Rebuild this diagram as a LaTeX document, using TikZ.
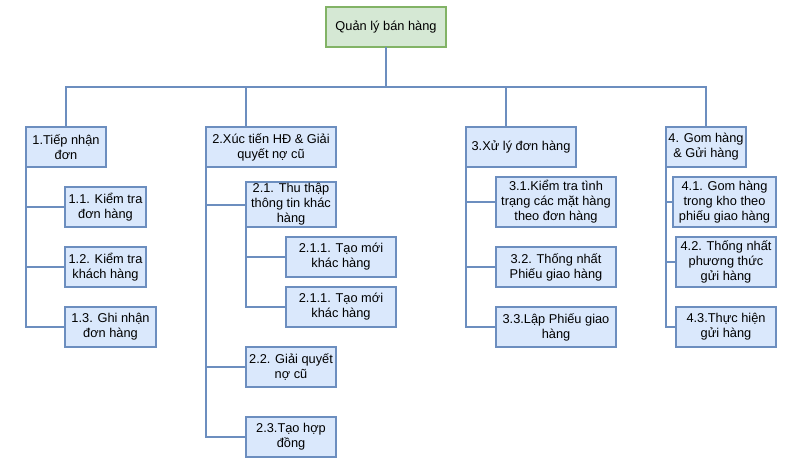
\documentclass[tikz,border=0pt]{standalone}
\usepackage{fontspec}
\setmainfont{Liberation Sans}
\usepackage{tikz}
\usetikzlibrary{positioning}
\definecolor{BoxBlue}{HTML}{DAE8FC}
\definecolor{EdgeBlue}{HTML}{6C8EBF}
\definecolor{BoxGreen}{HTML}{D5E8D4}
\definecolor{EdgeGreen}{HTML}{82B366}

\begin{document}
\begin{tikzpicture}[
  x=1pt, y=-1pt,
  block/.style={draw=EdgeBlue, fill=BoxBlue, line width=2pt, inner sep=0pt,
                outer sep=0pt, align=center, anchor=north west,
                font=\fontsize{12.8}{15}\selectfont},
  link/.style={draw=EdgeBlue, line width=2pt}
]
  \useasboundingbox (0,0) rectangle (791,464);

  % Root
  \node[block, draw=EdgeGreen, fill=BoxGreen, minimum width=120pt, minimum height=40pt]
    (root) at (326,7) {Quản lý bán hàng};
  \coordinate (bus) at (386,87);

  % Level 1
  \node[block, minimum width=80pt, minimum height=40pt]  (n1) at (26,127)  {1.Tiếp nhận\\đơn};
  \node[block, minimum width=130pt, minimum height=40pt] (n2) at (206,127) {2.Xúc tiến HĐ \& Giải\\quyết nợ cũ};
  \node[block, minimum width=110pt, minimum height=40pt] (n3) at (466,127) {3.Xử lý đơn hàng};
  \node[block, minimum width=80pt, minimum height=40pt]  (n4) at (666,127) {4. Gom hàng\\\& Gửi hàng};

  % Branch 1
  \node[block, minimum width=81pt, minimum height=40pt] (n11) at (65,187) {1.1. Kiểm tra\\đơn hàng};
  \node[block, minimum width=81pt, minimum height=40pt] (n12) at (65,247) {1.2. Kiểm tra\\khách hàng};
  \node[block, minimum width=91pt, minimum height=40pt] (n13) at (65,307) {1.3. Ghi nhận\\đơn hàng};

  % Branch 2
  \node[block, minimum width=90pt, minimum height=45pt]  (n21)  at (246,182) {2.1. Thu thập\\thông tin khác\\hàng};
  \node[block, minimum width=110pt, minimum height=40pt] (n211) at (286,237) {2.1.1. Tạo mới\\khác hàng};
  \node[block, minimum width=110pt, minimum height=40pt] (n212) at (286,287) {2.1.1. Tạo mới\\khác hàng};
  \node[block, minimum width=90pt, minimum height=40pt]  (n22)  at (246,347) {2.2. Giải quyết\\nợ cũ};
  \node[block, minimum width=90pt, minimum height=40pt]  (n23)  at (246,417) {2.3.Tạo hợp\\đồng};

  % Branch 3
  \node[block, minimum width=120pt, minimum height=50pt] (n31) at (496,177) {3.1.Kiểm tra tình\\trạng các mặt hàng\\theo đơn hàng};
  \node[block, minimum width=120pt, minimum height=40pt] (n32) at (496,247) {3.2. Thống nhất\\Phiếu giao hàng};
  \node[block, minimum width=120pt, minimum height=40pt] (n33) at (496,307) {3.3.Lập Phiếu giao\\hàng};

  % Branch 4
  \node[block, minimum width=103pt, minimum height=50pt] (n41) at (673,177) {4.1. Gom hàng\\trong kho theo\\phiếu giao hàng};
  \node[block, minimum width=100pt, minimum height=50pt] (n42) at (676,237) {4.2. Thống nhất\\phương thức\\gửi hàng};
  \node[block, minimum width=100pt, minimum height=40pt] (n43) at (676,307) {4.3.Thực hiện\\gửi hàng};

  % Connectors
  \draw[link] (root.south) -- (bus);
  \draw[link] (bus) -| (n1.north);
  \draw[link] (bus) -| ([xshift=40pt]n2.north west);
  \draw[link] (bus) -| ([xshift=40pt]n3.north west);
  \draw[link] (bus) -| (n4.north);

  \foreach \c in {n11,n12,n13} \draw[link] (n1.south west) |- (\c.west);
  \foreach \c in {n21,n22,n23} \draw[link] (n2.south west) |- (\c.west);
  \foreach \c in {n211,n212}   \draw[link] (n21.south west) |- (\c.west);
  \foreach \c in {n31,n32,n33} \draw[link] (n3.south west) |- (\c.west);
  \foreach \c in {n41,n42,n43} \draw[link] (n4.south west) |- (\c.west);
\end{tikzpicture}
\end{document}
